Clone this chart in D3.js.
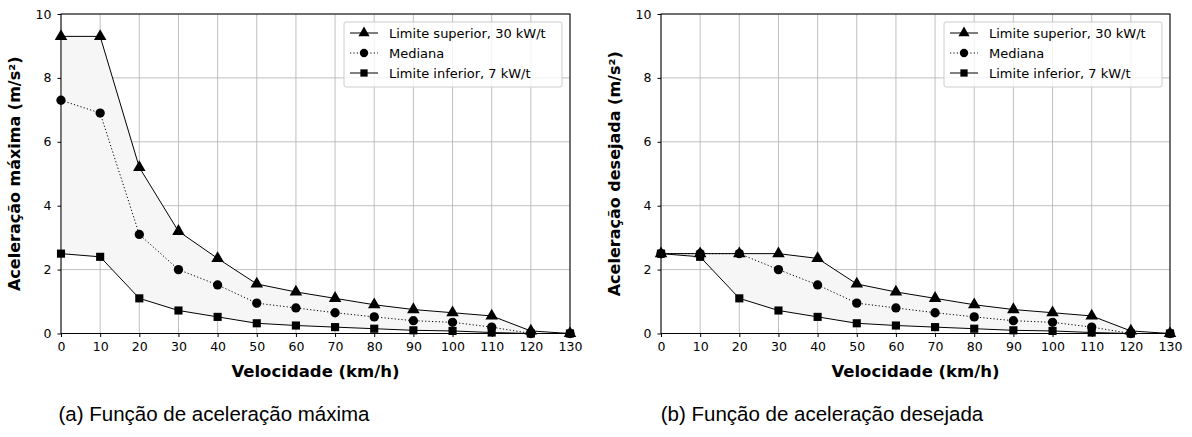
<!DOCTYPE html>
<html>
<head>
<meta charset="utf-8">
<script src="https://cdn.jsdelivr.net/npm/d3@7"></script>
<style>
  body { margin: 0; background: #fff; }
</style>
</head>
<body>
<div id="chart"></div>
<script>
// velocidade (km/h)
const speeds = [0, 10, 20, 30, 40, 50, 60, 70, 80, 90, 100, 110, 120, 130];

// (a) aceleração máxima
const maxUpper  = [9.3, 9.3, 5.2, 3.2, 2.35, 1.55, 1.3, 1.1, 0.9, 0.75, 0.65, 0.55, 0.08, 0];
const maxMedian = [7.3, 6.9, 3.1, 2.0, 1.52, 0.95, 0.8, 0.65, 0.52, 0.4, 0.35, 0.2, 0, 0];
const maxLower  = [2.5, 2.4, 1.1, 0.72, 0.52, 0.32, 0.25, 0.2, 0.15, 0.1, 0.08, 0.03, 0, 0];

// (b) aceleração desejada
const desUpper  = [2.5, 2.5, 2.5, 2.5, 2.35, 1.55, 1.3, 1.1, 0.9, 0.75, 0.65, 0.55, 0.08, 0];
const desMedian = [2.5, 2.5, 2.5, 2.0, 1.52, 0.95, 0.8, 0.65, 0.52, 0.4, 0.35, 0.2, 0, 0];
const desLower  = [2.5, 2.4, 1.1, 0.72, 0.52, 0.32, 0.25, 0.2, 0.15, 0.1, 0.08, 0.03, 0, 0];

const xTicks = [0, 10, 20, 30, 40, 50, 60, 70, 80, 90, 100, 110, 120, 130];
const yTicks = [0, 2, 4, 6, 8, 10];

const legendLabels = ["Limite superior, 30 kW/t", "Mediana", "Limite inferior, 7 kW/t"];

const W = 1192, H = 437;
const svg = d3.select("#chart").append("svg")
  .attr("width", W).attr("height", H)
  .attr("viewBox", [0, 0, W, H])
  .style("font-family", "'DejaVu Sans', sans-serif");

function panel(left, upper, median, lower, yLabel, caption, capX){
  const x = d3.scaleLinear().domain([0, 130]).range([left, left + 509]);
  const y = d3.scaleLinear().domain([0, 10]).range([333.5, 14]);
  const g = svg.append("g");

  // grid
  g.append("g").selectAll("line").data(xTicks).join("line")
    .attr("x1", d => x(d)).attr("x2", d => x(d))
    .attr("y1", y(0)).attr("y2", y(10))
    .attr("stroke", "#b0b0b0").attr("stroke-width", 0.8);
  g.append("g").selectAll("line").data(yTicks).join("line")
    .attr("x1", x(0)).attr("x2", x(130))
    .attr("y1", d => y(d)).attr("y2", d => y(d))
    .attr("stroke", "#b0b0b0").attr("stroke-width", 0.8);

  // fill between limits
  const band = speeds.map((s, i) => ({s, hi: upper[i], lo: lower[i]}));
  g.append("path").datum(band)
    .attr("d", d3.area().x(d => x(d.s)).y0(d => y(d.lo)).y1(d => y(d.hi)))
    .attr("fill", "#f6f6f6");

  const line = d3.line().x(d => x(d[0])).y(d => y(d[1]));
  const series = [
    {vals: upper, dash: null, shape: d3.symbolTriangle, size: 68},
    {vals: median, dash: "1.2,2.2", shape: d3.symbolCircle, size: 68},
    {vals: lower, dash: null, shape: d3.symbolSquare, size: 66}
  ];
  series.forEach(s => {
    const pts = speeds.map((v, i) => [v, s.vals[i]]);
    g.append("path").datum(pts)
      .attr("d", line)
      .attr("fill", "none").attr("stroke", "#000").attr("stroke-width", 1)
      .attr("stroke-dasharray", s.dash);
    g.append("g").selectAll("path").data(pts).join("path")
      .attr("transform", d => `translate(${x(d[0])},${y(d[1])})`)
      .attr("d", d3.symbol().type(s.shape).size(s.size))
      .attr("fill", "#000");
  });

  // spines
  g.append("rect")
    .attr("x", x(0)).attr("y", y(10))
    .attr("width", x(130) - x(0)).attr("height", y(0) - y(10))
    .attr("fill", "none").attr("stroke", "#000").attr("stroke-width", 1);

  // axes
  const xAxis = g.append("g").attr("transform", `translate(0,${y(0)})`)
    .call(d3.axisBottom(x).tickValues(xTicks).tickSize(3.5).tickPadding(5));
  const yAxis = g.append("g").attr("transform", `translate(${x(0)},0)`)
    .call(d3.axisLeft(y).tickValues(yTicks).tickSize(3.5).tickPadding(6));
  [xAxis, yAxis].forEach(a => {
    a.select(".domain").remove();
    a.selectAll("text").attr("font-size", 12.5).attr("fill", "#000")
      .attr("font-family", "DejaVu Sans");
  });

  g.append("text")
    .attr("x", (x(0) + x(130)) / 2).attr("y", 377)
    .attr("text-anchor", "middle")
    .attr("font-size", 16.5).attr("font-weight", "bold")
    .text("Velocidade (km/h)");
  g.append("text")
    .attr("transform", `translate(${left - 41},${(y(0) + y(10)) / 2}) rotate(-90)`)
    .attr("text-anchor", "middle")
    .attr("font-size", 16).attr("font-weight", "bold")
    .text(yLabel);

  // legend
  const lx = x(130) - 226, ly = 22;
  g.append("rect")
    .attr("x", lx).attr("y", ly).attr("width", 218).attr("height", 65).attr("rx", 2)
    .attr("fill", "#fff").attr("fill-opacity", 0.8)
    .attr("stroke", "#ccc").attr("stroke-width", 1);
  series.forEach((s, i) => {
    const yy = ly + 11 + i * 20;
    g.append("line")
      .attr("x1", lx + 6).attr("x2", lx + 34).attr("y1", yy).attr("y2", yy)
      .attr("stroke", "#000").attr("stroke-width", 1)
      .attr("stroke-dasharray", s.dash);
    g.append("path")
      .attr("transform", `translate(${lx + 20},${yy})`)
      .attr("d", d3.symbol().type(s.shape).size(s.size * 0.8))
      .attr("fill", "#000");
    g.append("text")
      .attr("x", lx + 45).attr("y", yy + 4.5)
      .attr("font-size", 13)
      .text(legendLabels[i]);
  });

  // caption
  svg.append("text")
    .attr("x", capX).attr("y", 421)
    .attr("text-anchor", "middle")
    .style("font-family", "'Liberation Sans', Arial, sans-serif")
    .attr("font-size", 20.5)
    .text(caption);
}

panel(61, maxUpper, maxMedian, maxLower, "Aceleração máxima (m/s²)", "(a) Função de aceleração máxima", 214);
panel(661, desUpper, desMedian, desLower, "Aceleração desejada (m/s²)", "(b) Função de aceleração desejada", 822);
</script>
</body>
</html>
